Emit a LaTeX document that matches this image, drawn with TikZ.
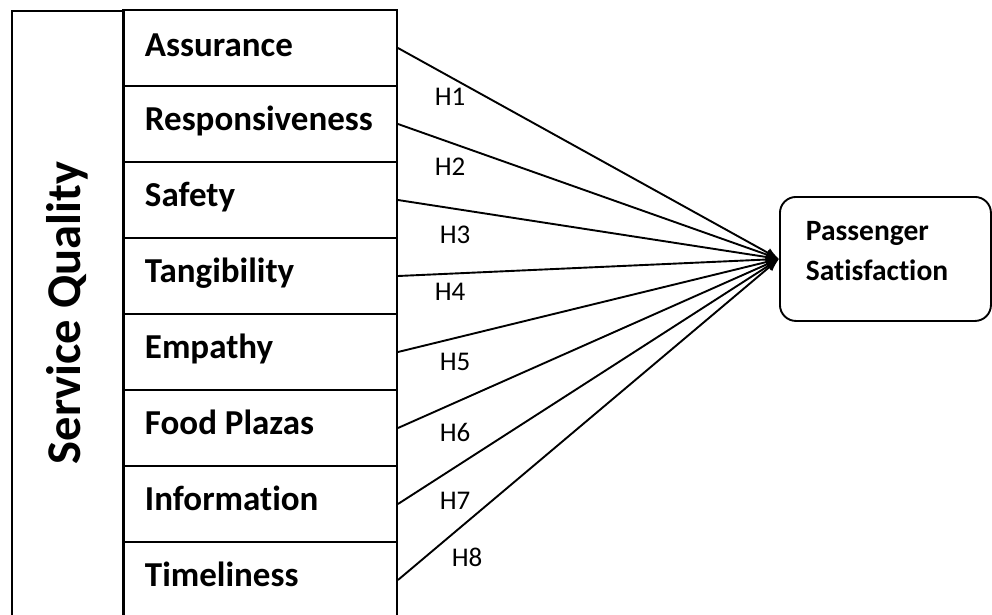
\documentclass[tikz,border=0pt]{standalone}
\usepackage{fontspec}
\setmainfont{Carlito}[Ligatures=NoCommon]
\usetikzlibrary{arrows.meta}
\begin{document}
\begin{tikzpicture}[x=1pt,y=-1pt, line width=1.9pt,
  rowbox/.style={draw, rectangle, minimum width=274pt, minimum height=76pt, inner sep=0pt},
  rowtxt/.style={anchor=base west, font=\fontsize{35}{38}\selectfont\bfseries, inner sep=0pt},
  hlab/.style={font=\fontsize{27}{30}\selectfont, inner sep=0pt},
  ptxt/.style={anchor=base west, font=\fontsize{29.5}{32}\selectfont\bfseries, inner sep=0pt},
  link/.style={-{Latex[length=13pt,width=10pt]}},
]
\useasboundingbox (0,0) rectangle (992,614);
\clip (0,0) rectangle (992,614);
% outer group box
\node[draw, rectangle, minimum width=112pt, minimum height=640pt, anchor=north west, inner sep=0pt] (sq) at (11,10) {};
\node[rotate=90, anchor=base, font=\fontsize{48.5}{54}\selectfont\bfseries, inner sep=0pt] (sqt) at (80,313) {Service Quality};
% rows
\node[rowbox] (r1) at (260,48) {};
\node[rowbox] (r2) at (260,124) {};
\node[rowbox] (r3) at (260,200) {};
\node[rowbox] (r4) at (260,276) {};
\node[rowbox] (r5) at (260,352) {};
\node[rowbox] (r6) at (260,428) {};
\node[rowbox] (r7) at (260,504) {};
\node[rowbox] (r8) at (260,580) {};
\node[rowtxt] (t1) at (144,56) {Assurance};
\node[rowtxt] (t2) at (144,130) {Responsiveness};
\node[rowtxt] (t3) at (144,206) {Safety};
\node[rowtxt] (t4) at (144,282) {Tangibility};
\node[rowtxt] (t5) at (144,358) {Empathy};
\node[rowtxt] (t6) at (144,434) {Food Plazas};
\node[rowtxt] (t7) at (144,510) {Information};
\node[rowtxt] (t8) at (144,586) {Timeliness};
% target
\node[draw, rectangle, rounded corners=16pt, minimum width=211pt, minimum height=124pt, anchor=north west, inner sep=0pt] (ps) at (779,196) {};
\node[ptxt] (p1) at (805,240) {Passenger};
\node[ptxt] (p2) at (805,280) {Satisfaction};
% links
\foreach \i in {1,...,8} \draw[link] (r\i.east) -- (ps.west);
% labels
\node[hlab] (h1) at (450,97) {H1};
\node[hlab] (h2) at (450,167) {H2};
\node[hlab] (h3) at (455,235) {H3};
\node[hlab] (h4) at (450,292) {H4};
\node[hlab] (h5) at (455,362) {H5};
\node[hlab] (h6) at (455,432) {H6};
\node[hlab] (h7) at (455,501) {H7};
\node[hlab] (h8) at (467,557) {H8};
\end{tikzpicture}
\end{document}
